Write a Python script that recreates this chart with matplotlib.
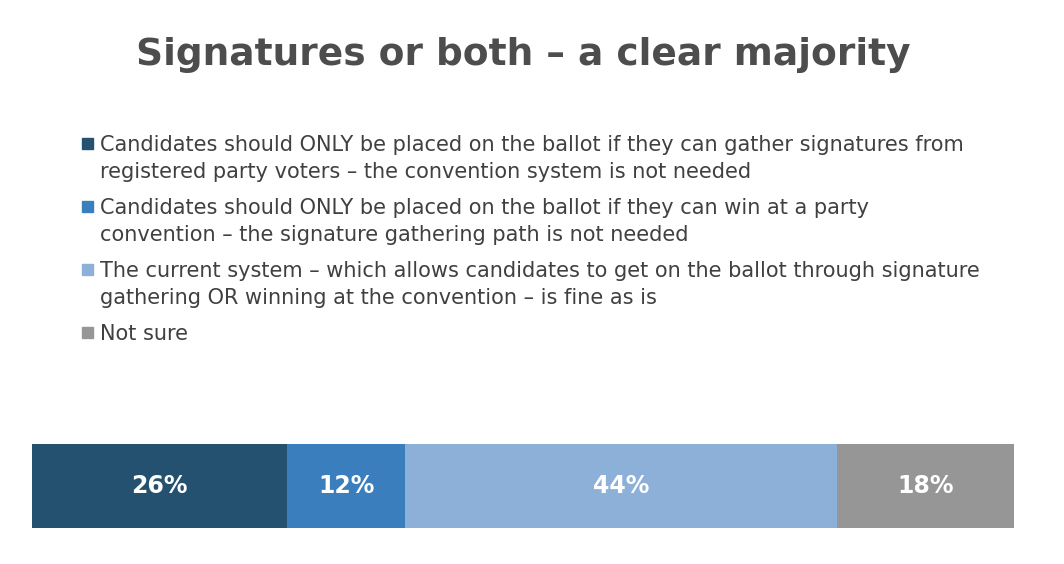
import matplotlib
matplotlib.use('Agg')
import matplotlib.pyplot as plt
from matplotlib.patches import Rectangle

# survey answers and shares (%)
labels = [
    'Candidates should ONLY be placed on the ballot if they can gather signatures from\nregistered party voters \u2013 the convention system is not needed',
    'Candidates should ONLY be placed on the ballot if they can win at a party\nconvention \u2013 the signature gathering path is not needed',
    'The current system \u2013 which allows candidates to get on the ballot through signature\ngathering OR winning at the convention \u2013 is fine as is',
    'Not sure',
]
values = [26, 12, 44, 18]
colors = ['#255170', '#3a7ebd', '#8cb0d8', '#969696']
title = 'Signatures or both \u2013 a clear majority'

plt.rcParams['font.family'] = ['DejaVu Sans']

W, H = 1064, 564
fig = plt.figure(figsize=(W / 100, H / 100), dpi=100)
ax = fig.add_axes([32 / W, 1 - 528 / H, 982 / W, 84 / H])

left = 0
for lab, v, c in zip(labels, values, colors):
    ax.barh(0, v, left=left, height=1, color=c, label=lab)
    ax.text(left + v / 2, 0, f'{v}%', ha='center', va='center',
            color='white', fontsize=17, fontweight='bold')
    left += v

ax.set_xlim(0, sum(values))
ax.set_ylim(-0.5, 0.5)
ax.axis('off')

fig.text(0.492, 1 - 55 / H, title, ha='center', va='center',
         fontsize=27, fontweight='bold', color='#4d4d4d')

# legend drawn by hand so the square sits on the first line
line_gap = 27
item_gap = 36
base = 151
for lab, c in zip(labels, colors):
    fig.patches.append(Rectangle((82 / W, 1 - (base - 2) / H), 11 / W, 11 / H,
                                 transform=fig.transFigure, color=c))
    for k, line in enumerate(lab.split('\n')):
        fig.text(100 / W, 1 - (base + k * line_gap) / H, line,
                 ha='left', va='baseline', fontsize=15, color='#404040')
    base += (lab.count('\n')) * line_gap + item_gap

fig.savefig('out.png', dpi=100)
